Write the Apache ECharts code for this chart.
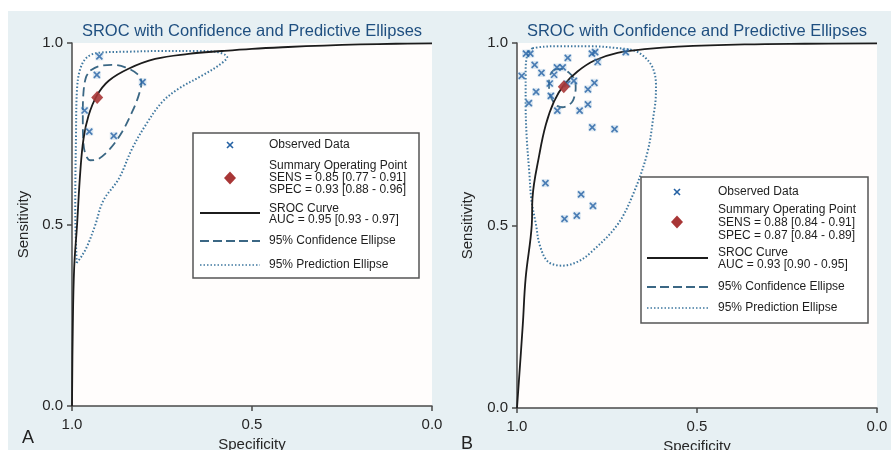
<!DOCTYPE html>
<html>
<head>
<meta charset="utf-8">
<script src="https://cdn.jsdelivr.net/npm/echarts@6/dist/echarts.min.js"></script>
<style>
html,body{margin:0;padding:0;background:#fff;}
#wrap{position:relative;width:891px;height:450px;overflow:hidden;}
#bg{position:absolute;left:8px;top:11px;right:0;bottom:0;background:#e7f0f3;}
#c{position:absolute;left:0;top:0;width:891px;height:450px;}
</style>
</head>
<body>
<div id="wrap"><div id="bg"></div><div id="c"></div></div>
<script>
// ---------- DATA (specificity, sensitivity) ----------
const titleText = 'SROC with Confidence and Predictive Ellipses';
const panelLabels = ['A', 'B'];

// Panel A
const obsA = [[0.924,0.963],[0.931,0.912],[0.804,0.892],[0.965,0.814],[0.952,0.756],[0.884,0.744]];
const summaryA = [[0.93,0.85]];
const srocA = [[1.0,0.0],[0.998,0.2],[0.994,0.38],[0.986,0.498],[0.977,0.645],[0.968,0.736],[0.954,0.80],[0.931,0.855],[0.898,0.896],[0.843,0.929],[0.769,0.956],[0.676,0.970],[0.583,0.978],[0.5,0.984],[0.4,0.989],[0.3,0.993],[0.2,0.996],[0.1,0.998],[0.0,0.999]];
const confA = [[0.949,0.924],[0.926,0.936],[0.889,0.940],[0.852,0.933],[0.819,0.915],[0.807,0.892],[0.815,0.855],[0.833,0.810],[0.861,0.755],[0.894,0.709],[0.926,0.681],[0.949,0.677],[0.963,0.695],[0.969,0.736],[0.970,0.80],[0.968,0.865],[0.961,0.906],[0.949,0.924]];
const predA = [[0.987,0.394],[0.990,0.48],[0.991,0.553],[0.989,0.736],[0.986,0.874],[0.977,0.929],[0.958,0.961],[0.926,0.973],[0.843,0.976],[0.75,0.978],[0.657,0.978],[0.602,0.976],[0.569,0.961],[0.593,0.938],[0.639,0.910],[0.704,0.874],[0.75,0.837],[0.796,0.773],[0.833,0.709],[0.870,0.626],[0.913,0.566],[0.936,0.497],[0.958,0.44],[0.975,0.41],[0.987,0.394]];
const legendA = ['Observed Data','Summary Operating Point','SENS = 0.85 [0.77 - 0.91]','SPEC = 0.93 [0.88 - 0.96]','SROC Curve','AUC = 0.95 [0.93 - 0.97]','95% Confidence Ellipse','95% Prediction Ellipse'];

// Panel B
const obsB = [[0.975,0.971],[0.963,0.971],[0.859,0.959],[0.792,0.971],[0.783,0.975],[0.698,0.975],[0.951,0.940],[0.776,0.948],[0.987,0.910],[0.932,0.918],[0.889,0.933],[0.873,0.933],[0.909,0.889],[0.897,0.913],[0.842,0.896],[0.861,0.888],[0.947,0.866],[0.906,0.855],[0.803,0.873],[0.785,0.891],[0.967,0.835],[0.888,0.815],[0.826,0.815],[0.803,0.832],[0.791,0.769],[0.729,0.764],[0.921,0.616],[0.822,0.585],[0.789,0.554],[0.868,0.518],[0.834,0.527]];
const summaryB = [[0.87,0.88]];
const srocB = [[1.0,0.0],[0.984,0.227],[0.976,0.356],[0.959,0.501],[0.957,0.575],[0.938,0.694],[0.920,0.776],[0.897,0.840],[0.869,0.886],[0.832,0.922],[0.785,0.952],[0.721,0.973],[0.637,0.984],[0.553,0.990],[0.368,0.996],[0.2,0.998],[0.0,0.999]];
const confB = [[0.897,0.927],[0.876,0.929],[0.855,0.918],[0.840,0.899],[0.837,0.877],[0.840,0.855],[0.846,0.840],[0.858,0.829],[0.874,0.824],[0.887,0.827],[0.897,0.836],[0.907,0.855],[0.911,0.877],[0.911,0.899],[0.906,0.916],[0.897,0.927]];
const predB = [[0.957,0.986],[0.924,0.990],[0.887,0.991],[0.795,0.991],[0.721,0.986],[0.674,0.979],[0.646,0.962],[0.623,0.932],[0.614,0.886],[0.615,0.844],[0.619,0.813],[0.637,0.703],[0.674,0.594],[0.721,0.502],[0.794,0.427],[0.831,0.401],[0.873,0.390],[0.914,0.401],[0.937,0.447],[0.947,0.501],[0.960,0.570],[0.966,0.648],[0.973,0.740],[0.976,0.831],[0.976,0.922],[0.971,0.968],[0.957,0.986]];
const legendB = ['Observed Data','Summary Operating Point','SENS = 0.88 [0.84 - 0.91]','SPEC = 0.87 [0.84 - 0.89]','SROC Curve','AUC = 0.93 [0.90 - 0.95]','95% Confidence Ellipse','95% Prediction Ellipse'];

// ---------- STYLE ----------
const FONT = '"Liberation Sans", Arial, sans-serif';
const C_AXIS = '#4a4a4a';
const C_TXT = '#262626';
const C_SROC = '#1c1c1c';
const C_CONF = '#3b6784';
const C_PRED = '#3f78a0';
const C_OBS = '#2562a4';
const C_SUM = '#a83636';
const CROSS = 'path://M0,0L10,10M10,0L0,10';

const chart = echarts.init(document.getElementById('c'), null, {renderer:'canvas'});

function xAx(gi,gap){
  return {gridIndex:gi,type:'value',min:0,max:1,interval:0.5,inverse:true,
    axisLine:{show:true,onZero:false,lineStyle:{color:C_AXIS,width:1.5}},
    axisTick:{show:true,length:5,lineStyle:{color:C_AXIS,width:1.5}},
    splitLine:{show:false},
    axisLabel:{formatter:v=>v.toFixed(1),fontSize:15,color:C_TXT,fontFamily:FONT,margin:11},
    name:'Specificity',nameLocation:'middle',nameGap:gap,
    nameTextStyle:{fontSize:15,color:C_TXT,fontFamily:FONT}};
}
function yAx(gi,gap){
  return {gridIndex:gi,type:'value',min:0,max:1,interval:0.5,
    axisLine:{show:true,onZero:false,lineStyle:{color:C_AXIS,width:1.5}},
    axisTick:{show:true,length:5,lineStyle:{color:C_AXIS,width:1.5}},
    splitLine:{show:false},
    axisLabel:{formatter:v=>v.toFixed(1),fontSize:15,color:C_TXT,fontFamily:FONT,margin:9},
    name:'Sensitivity',nameLocation:'middle',nameGap:gap,
    nameTextStyle:{fontSize:15,color:C_TXT,fontFamily:FONT}};
}
function panelSeries(gi,obs,sum,sroc,conf,pred){
  return [
    {type:'line',xAxisIndex:gi,yAxisIndex:gi,data:pred,smooth:0.35,symbol:'none',
      lineStyle:{color:C_PRED,width:2,type:[1.5,2]},z:3},
    {type:'line',xAxisIndex:gi,yAxisIndex:gi,data:conf,smooth:0.35,symbol:'none',
      lineStyle:{color:C_CONF,width:1.8,type:[9,5]},z:3},
    {type:'line',xAxisIndex:gi,yAxisIndex:gi,data:sroc,smooth:0.4,symbol:'none',
      lineStyle:{color:C_SROC,width:1.8},z:4},
    {type:'scatter',xAxisIndex:gi,yAxisIndex:gi,data:obs,symbol:'rect',symbolSize:8,
      itemStyle:{color:'rgba(140,185,220,0.35)'},z:4},
    {type:'scatter',xAxisIndex:gi,yAxisIndex:gi,data:obs,symbol:CROSS,symbolSize:6,
      itemStyle:{color:'none',borderColor:C_OBS,borderWidth:1.7},z:5},
    {type:'scatter',xAxisIndex:gi,yAxisIndex:gi,data:sum,symbol:'diamond',symbolSize:[12,13],
      itemStyle:{color:C_SUM,opacity:0.9},z:6}
  ];
}

function legendGraphics(bx,by,bw,bh,mx,tx,ys,lines,lx0,lx1){
  const g = [];
  g.push({type:'rect',shape:{x:bx,y:by,width:bw,height:bh},
    style:{fill:'#fff',stroke:'#555',lineWidth:1.5},z:10});
  g.push({type:'line',shape:{x1:mx-3,y1:ys.obs-3,x2:mx+3,y2:ys.obs+3},
    style:{stroke:C_OBS,lineWidth:1.6},z:11});
  g.push({type:'line',shape:{x1:mx+3,y1:ys.obs-3,x2:mx-3,y2:ys.obs+3},
    style:{stroke:C_OBS,lineWidth:1.6},z:11});
  g.push({type:'polygon',shape:{points:[[mx,ys.dia-6.5],[mx+6,ys.dia],[mx,ys.dia+6.5],[mx-6,ys.dia]]},
    style:{fill:C_SUM},z:11});
  g.push({type:'line',shape:{x1:lx0,y1:ys.srocLine,x2:lx1,y2:ys.srocLine},
    style:{stroke:C_SROC,lineWidth:1.8},z:11});
  g.push({type:'line',shape:{x1:lx0,y1:ys.conf,x2:lx1,y2:ys.conf},
    style:{stroke:C_CONF,lineWidth:1.8,lineDash:[9,4]},z:11});
  g.push({type:'line',shape:{x1:lx0,y1:ys.pred,x2:lx1,y2:ys.pred},
    style:{stroke:C_PRED,lineWidth:1.6,lineDash:[1.5,2]},z:11});
  const ty = [ys.obs, ys.s1, ys.s2, ys.s3, ys.r1, ys.r2, ys.conf, ys.pred];
  for(let i=0;i<lines.length;i++){
    g.push({type:'text',x:tx,y:ty[i],z:11,
      style:{text:lines[i],fill:'#1e1e1e',font:'12px '+FONT,textAlign:'left',textVerticalAlign:'middle'}});
  }
  return g;
}

const graphics = [
  {type:'text',x:252,y:31,z:12,style:{text:titleText,fill:'#1f4f80',font:'16.5px '+FONT,textAlign:'center',textVerticalAlign:'middle'}},
  {type:'text',x:697,y:31,z:12,style:{text:titleText,fill:'#1f4f80',font:'16.5px '+FONT,textAlign:'center',textVerticalAlign:'middle'}},
  {type:'text',x:28,y:438,z:12,style:{text:panelLabels[0],fill:'#222',font:'18px '+FONT,textAlign:'center',textVerticalAlign:'middle'}},
  {type:'text',x:467,y:444,z:12,style:{text:panelLabels[1],fill:'#222',font:'18px '+FONT,textAlign:'center',textVerticalAlign:'middle'}},
  ...legendGraphics(193,133,226,145,230,269,
    {obs:145,s1:166,s2:178,s3:190,r1:209,r2:220,conf:241,pred:265,dia:178,srocLine:213},
    legendA,200,260),
  ...legendGraphics(641,177,227,146,677,718,
    {obs:192,s1:210,s2:223,s3:236,r1:253,r2:265,conf:287,pred:308,dia:222,srocLine:258},
    legendB,647,708)
];

chart.setOption({
  backgroundColor:'transparent',
  animation:false,
  grid:[
    {left:72,right:459,top:43,bottom:44,show:true,backgroundColor:'#fffdfc',borderWidth:0,outerBoundsMode:'none',containLabel:false},
    {left:517,right:14,top:43,bottom:42,show:true,backgroundColor:'#fffdfc',borderWidth:0,outerBoundsMode:'none',containLabel:false}
  ],
  xAxis:[xAx(0,27),xAx(1,27)],
  yAxis:[yAx(0,41),yAx(1,42)],
  series:[
    ...panelSeries(0,obsA,summaryA,srocA,confA,predA),
    ...panelSeries(1,obsB,summaryB,srocB,confB,predB)
  ],
  graphic:graphics
});
</script>
</body>
</html>
